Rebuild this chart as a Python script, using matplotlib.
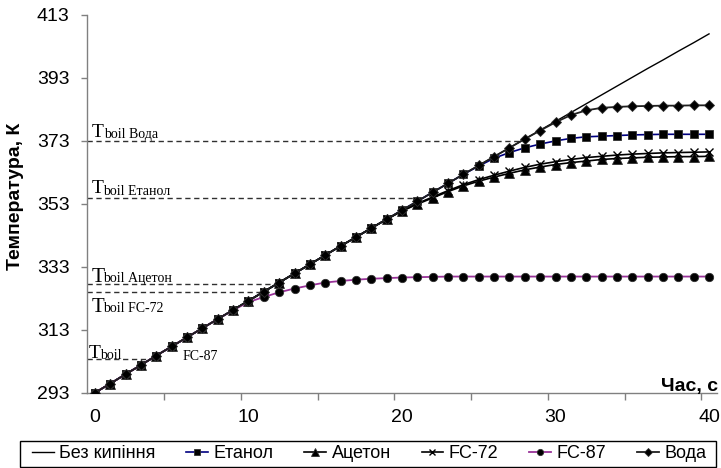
import numpy as np
import matplotlib
matplotlib.use("Agg")
import matplotlib.pyplot as plt
from matplotlib.patches import Rectangle

plt.rcParams['font.family'] = ['Liberation Sans', 'DejaVu Sans']

# ---------------- data ----------------
time_s = list(range(41))

no_boil = [293.0, 295.9, 298.9, 301.8, 304.8, 307.7, 310.6, 313.5, 316.4, 319.3,
           322.2, 325.1, 328.0, 330.9, 333.8, 336.7, 339.6, 342.4, 345.3, 348.1,
           351.0, 353.8, 356.7, 359.5, 362.4, 365.2, 368.0, 370.8, 373.6, 376.4,
           379.2, 382.0, 384.8, 387.6, 390.4, 393.2, 396.0, 398.7, 401.5, 404.2,
           407.0]

ethanol = [293.0, 295.9, 298.9, 301.8, 304.8, 307.7, 310.6, 313.5, 316.4, 319.3,
           322.2, 325.1, 328.0, 330.9, 333.8, 336.7, 339.6, 342.4, 345.3, 348.1,
           351.0, 353.8, 356.7, 359.5, 362.4, 365.0, 367.5, 369.3, 370.8, 372.0,
           373.0, 373.8, 374.3, 374.5, 374.7, 374.9, 375.0, 375.1, 375.1, 375.1,
           375.1]

acetone = [293.0, 295.9, 298.9, 301.8, 304.8, 307.7, 310.6, 313.5, 316.4, 319.3,
           322.2, 325.1, 328.0, 330.9, 333.8, 336.7, 339.6, 342.4, 345.3, 348.1,
           350.7, 352.9, 354.9, 356.9, 358.7, 360.2, 361.5, 362.7, 363.8, 364.7,
           365.5, 366.1, 366.6, 367.1, 367.4, 367.6, 367.8, 367.9, 368.0, 368.0,
           368.1]

fc72 = [293.0, 295.9, 298.9, 301.8, 304.8, 307.7, 310.6, 313.5, 316.4, 319.3,
        322.2, 325.1, 328.0, 330.9, 333.8, 336.7, 339.6, 342.4, 345.3, 348.1,
        350.8, 353.1, 355.2, 357.2, 359.1, 360.7, 362.1, 363.4, 364.6, 365.6,
        366.4, 367.1, 367.7, 368.1, 368.5, 368.8, 369.0, 369.2, 369.3, 369.4,
        369.5]

fc87 = [293.0, 295.9, 298.9, 301.8, 304.8, 307.7, 310.6, 313.5, 316.4, 319.2,
        321.8, 323.4, 324.9, 326.1, 327.1, 328.0, 328.5, 328.9, 329.2, 329.4,
        329.6, 329.7, 329.8, 329.9, 329.9, 329.9, 329.9, 329.9, 329.9, 329.9,
        329.9, 329.9, 329.9, 329.9, 329.9, 329.9, 329.9, 329.9, 329.9, 329.9,
        329.9]

water = [293.0, 295.9, 298.9, 301.8, 304.8, 307.7, 310.6, 313.5, 316.4, 319.3,
         322.2, 325.1, 328.0, 330.9, 333.8, 336.7, 339.6, 342.4, 345.3, 348.1,
         351.0, 353.8, 356.7, 359.5, 362.4, 365.2, 368.0, 370.8, 373.6, 376.3,
         378.9, 381.2, 382.7, 383.5, 383.8, 384.0, 384.1, 384.2, 384.2, 384.3,
         384.3]

series_labels = ['Без кипіння', 'Етанол', 'Ацетон', 'FC-72', 'FC-87', 'Вода']

boil_names = ['Вода', 'Етанол', 'Ацетон', 'FC-72', 'FC-87']
boil_temps = [373.0, 354.8, 327.4, 324.9, 303.7]

y_ticks = [293, 313, 333, 353, 373, 393, 413]
x_ticks = [0, 10, 20, 30, 40]

# ---------------- figure ----------------
W, H = 721, 468
fig = plt.figure(figsize=(W / 100, H / 100), dpi=100)
ax = fig.add_axes([87.3 / W, (H - 392.7) / H, 629.4 / W, 377.7 / H])

ax.set_xlim(-0.5, 40.5)
ax.set_ylim(293, 413)

# boiling-point dashed lines (from axis to where they meet the no-boil curve)
for name, tb in zip(boil_names, boil_temps):
    x_end = np.interp(tb, no_boil, time_s)
    ax.plot([-0.5, x_end], [tb, tb], color='#303030', lw=1.0,
            dashes=(3.8, 2.6), zorder=1)

ms_line = dict(markeredgewidth=0.6)
h0, = ax.plot(time_s, no_boil, color='black', lw=1.0, zorder=3)
h1, = ax.plot(time_s, ethanol, color='#000080', lw=1.2, marker='s', ms=6.0,
              mfc='black', mec='#303030', zorder=4, **ms_line)
h2, = ax.plot(time_s, acetone, color='black', lw=1.2, marker='^', ms=7.0,
              mfc='black', mec='#303030', zorder=4, **ms_line)
h3, = ax.plot(time_s, fc72, color='black', lw=1.2, marker='x', ms=5.6,
              mec='black', markeredgewidth=1.0, zorder=4)
h4, = ax.plot(time_s, fc87, color='#993399', lw=1.3, marker='o', ms=6.0,
              mfc='black', mec='#303030', zorder=4, **ms_line)
h5, = ax.plot(time_s, water, color='#202020', lw=1.3, marker='D', ms=5.0,
              mfc='black', mec='#303030', zorder=5, **ms_line)

# ---------------- T_boil labels ----------------
serif = ['Liberation Serif', 'DejaVu Serif']
px = 0.72  # points per pixel
# (name, T dx px, T dy px (up from line), sub dx px, sub dy px, T size)
lab_specs = [
    ('Вода',   4.7,  3.6, 16.7,  2.8, 14),
    ('Етанол', 4.4,  5.6, 15.7,  3.3, 14),
    ('Ацетон', 4.4,  2.6, 15.7,  2.3, 15.5),
    ('FC-72',  4.4, -19.4, 15.7, -19.7, 15),
]
for (name, tdx, tdy, sdx, sdy, tsz), tb in zip(lab_specs, boil_temps[:4]):
    ax.annotate('T', xy=(-0.5, tb), xytext=(tdx * px, tdy * px),
                textcoords='offset points', ha='left', va='baseline',
                fontsize=tsz, family=serif, zorder=6)
    ax.annotate('boil ' + name, xy=(-0.5, tb), xytext=(sdx * px, sdy * px),
                textcoords='offset points', ha='left', va='baseline',
                fontsize=10, family=serif, zorder=6)

tb87 = boil_temps[4]
ax.annotate('T', xy=(-0.5, tb87), xytext=(1.7 * px, 0.7 * px),
            textcoords='offset points', ha='left', va='baseline',
            fontsize=14, family=serif, zorder=6)
ax.annotate('boil', xy=(-0.5, tb87), xytext=(12.7 * px, 0.0),
            textcoords='offset points', ha='left', va='baseline',
            fontsize=10, family=serif, zorder=6)
ax.annotate('FC-87', xy=(-0.5, tb87), xytext=(95.7 * px, -0.5 * px),
            textcoords='offset points', ha='left', va='baseline',
            fontsize=10, family=serif, zorder=6)

# ---------------- axes styling ----------------
for s in ['top', 'right']:
    ax.spines[s].set_visible(False)
for s in ['left', 'bottom']:
    ax.spines[s].set_color('#808080')
    ax.spines[s].set_linewidth(1.0)

ax.set_yticks(y_ticks)
ax.set_yticklabels([str(v) for v in y_ticks])
ax.tick_params(axis='y', direction='out', length=4.3, width=1.0,
               color='#808080', labelsize=14, pad=8.5)

ax.set_xticks(x_ticks)
ax.set_xticklabels([str(v) for v in x_ticks])
ax.set_xticks(np.arange(4.5, 40, 5), minor=True)
ax.tick_params(axis='x', which='major', length=0, labelsize=14, pad=12)
ax.tick_params(axis='x', which='minor', direction='out', length=5.0,
               width=1.0, color='#808080')

ax.set_ylabel('Температура, К', fontsize=14, fontweight='bold')
ax.yaxis.set_label_coords(-0.100, 0.52)

ax.text(40.6, 293.4, 'Час, с', ha='right', va='baseline', fontsize=14,
        fontweight='bold', clip_on=False, zorder=7)

# ---------------- legend ----------------
fig.patches.append(Rectangle((20 / W, 1.5 / H), 696 / W, 25.5 / H,
                             transform=fig.transFigure, fill=False,
                             edgecolor='black', linewidth=1.0))
leg = fig.legend([h0, h1, h2, h3, h4, h5], series_labels,
                 loc='center', bbox_to_anchor=(32 / W, 1.5 / H, 674 / W, 25.5 / H),
                 bbox_transform=fig.transFigure, mode='expand', ncol=6,
                 frameon=False, fontsize=13,
                 handlelength=1.2, handletextpad=0.3, markerscale=0.75,
                 borderpad=0.0, borderaxespad=0, columnspacing=1.0)

fig.savefig('out.png', dpi=100)
